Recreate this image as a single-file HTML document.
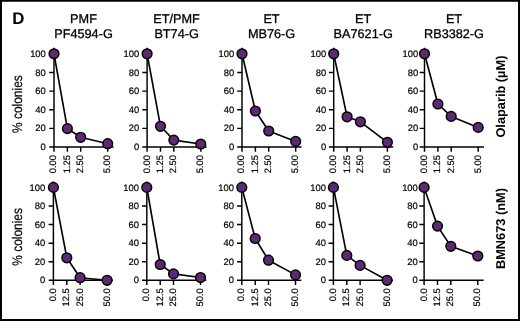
<!DOCTYPE html>
<html><head><meta charset="utf-8"><title>Figure D</title>
<style>
html,body{margin:0;padding:0;background:#fff;}
body{width:520px;height:321px;overflow:hidden;}
svg{display:block;text-rendering:geometricPrecision;font-family:"Liberation Sans",sans-serif;}
.t{font-size:12.7px;text-anchor:middle;fill:#000;stroke:#000;stroke-width:0.3px;}
.k{font-size:9.4px;fill:#000;stroke:#000;stroke-width:0.2px;}
.yl{font-size:13.8px;text-anchor:middle;fill:#000;stroke:#000;stroke-width:0.2px;}
.rl{font-size:12.8px;font-weight:bold;text-anchor:middle;fill:#000;}
.ax{stroke:#000;stroke-width:1.45;fill:none;}
.ln{stroke:#000;stroke-width:1.65;fill:none;stroke-linejoin:round;}
.pt{fill:#5c2a72;stroke:#000;stroke-width:1.5;}
</style></head><body>
<svg width="520" height="321" viewBox="0 0 520 321">
<rect x="0" y="0" width="520" height="321" fill="#fff"/>
<path d="M0 0H520V321H0Z M2 1.85V319H518V1.85Z" fill="#000" fill-rule="evenodd"/>
<text x="12.2" y="24.1" style="font-size:16.8px;font-weight:bold;fill:#000">D</text>
<text class="t" x="83.5" y="22.5">PMF</text><text class="t" x="83.5" y="37.7">PF4594-G</text>
<text class="t" x="176.6" y="22.5">ET/PMF</text><text class="t" x="176.6" y="37.7">BT74-G</text>
<text class="t" x="271.5" y="22.5">ET</text><text class="t" x="271.5" y="37.7">MB76-G</text>
<text class="t" x="363.2" y="22.5">ET</text><text class="t" x="363.2" y="37.7">BA7621-G</text>
<text class="t" x="454.0" y="22.5">ET</text><text class="t" x="454.0" y="37.7">RB3382-G</text>
<text class="yl" transform="translate(21.8 104.1) rotate(-90) scale(0.865 1)">% colonies</text>
<text class="rl" transform="translate(505 96.6) rotate(-90)">Olaparib (µM)</text>
<path class="ax" d="M54.00 47.85V151.80M49.20 147.00H113.50M49.20 128.37H54.00M49.20 109.74H54.00M49.20 91.11H54.00M49.20 72.48H54.00M49.20 53.85H54.00M67.40 147.00V151.80M80.70 147.00V151.80M107.70 147.00V151.80"/>
<text class="k" text-anchor="end" transform="translate(45.8 150.10)">0</text><text class="k" text-anchor="end" transform="translate(45.8 131.47)">20</text><text class="k" text-anchor="end" transform="translate(45.8 112.84)">40</text><text class="k" text-anchor="end" transform="translate(45.8 94.21)">60</text><text class="k" text-anchor="end" transform="translate(45.8 75.58)">80</text><text class="k" text-anchor="end" transform="translate(45.8 56.95)">100</text>
<text class="k" text-anchor="end" transform="translate(56.4 155.0) rotate(-90)">0.00</text><text class="k" text-anchor="end" transform="translate(69.8 155.0) rotate(-90)">1.25</text><text class="k" text-anchor="end" transform="translate(83.1 155.0) rotate(-90)">2.50</text><text class="k" text-anchor="end" transform="translate(110.1 155.0) rotate(-90)">5.00</text>
<polyline class="ln" points="54.0,53.8 67.4,128.6 80.7,137.3 107.7,143.7"/>
<circle class="pt" cx="54.0" cy="53.8" r="4.85"/><circle class="pt" cx="67.4" cy="128.6" r="4.85"/><circle class="pt" cx="80.7" cy="137.3" r="4.85"/><circle class="pt" cx="107.7" cy="143.7" r="4.85"/>
<path class="ax" d="M147.10 47.85V151.80M142.30 147.00H206.60M142.30 128.37H147.10M142.30 109.74H147.10M142.30 91.11H147.10M142.30 72.48H147.10M142.30 53.85H147.10M160.50 147.00V151.80M173.80 147.00V151.80M200.80 147.00V151.80"/>
<text class="k" text-anchor="end" transform="translate(139.2 150.10)">0</text><text class="k" text-anchor="end" transform="translate(139.2 131.47)">20</text><text class="k" text-anchor="end" transform="translate(139.2 112.84)">40</text><text class="k" text-anchor="end" transform="translate(139.2 94.21)">60</text><text class="k" text-anchor="end" transform="translate(139.2 75.58)">80</text><text class="k" text-anchor="end" transform="translate(139.2 56.95)">100</text>
<text class="k" text-anchor="end" transform="translate(149.5 155.0) rotate(-90)">0.00</text><text class="k" text-anchor="end" transform="translate(162.9 155.0) rotate(-90)">1.25</text><text class="k" text-anchor="end" transform="translate(176.2 155.0) rotate(-90)">2.50</text><text class="k" text-anchor="end" transform="translate(203.2 155.0) rotate(-90)">5.00</text>
<polyline class="ln" points="147.1,53.8 160.5,126.3 173.8,140.1 200.8,144.0"/>
<circle class="pt" cx="147.1" cy="53.8" r="4.85"/><circle class="pt" cx="160.5" cy="126.3" r="4.85"/><circle class="pt" cx="173.8" cy="140.1" r="4.85"/><circle class="pt" cx="200.8" cy="144.0" r="4.85"/>
<path class="ax" d="M242.00 47.85V151.80M237.20 147.00H301.50M237.20 128.37H242.00M237.20 109.74H242.00M237.20 91.11H242.00M237.20 72.48H242.00M237.20 53.85H242.00M255.40 147.00V151.80M268.70 147.00V151.80M295.70 147.00V151.80"/>
<text class="k" text-anchor="end" transform="translate(234.2 150.10)">0</text><text class="k" text-anchor="end" transform="translate(234.2 131.47)">20</text><text class="k" text-anchor="end" transform="translate(234.2 112.84)">40</text><text class="k" text-anchor="end" transform="translate(234.2 94.21)">60</text><text class="k" text-anchor="end" transform="translate(234.2 75.58)">80</text><text class="k" text-anchor="end" transform="translate(234.2 56.95)">100</text>
<text class="k" text-anchor="end" transform="translate(244.4 155.0) rotate(-90)">0.00</text><text class="k" text-anchor="end" transform="translate(257.8 155.0) rotate(-90)">1.25</text><text class="k" text-anchor="end" transform="translate(271.1 155.0) rotate(-90)">2.50</text><text class="k" text-anchor="end" transform="translate(298.1 155.0) rotate(-90)">5.00</text>
<polyline class="ln" points="242.0,53.8 255.4,111.0 268.7,131.0 295.7,141.4"/>
<circle class="pt" cx="242.0" cy="53.8" r="4.85"/><circle class="pt" cx="255.4" cy="111.0" r="4.85"/><circle class="pt" cx="268.7" cy="131.0" r="4.85"/><circle class="pt" cx="295.7" cy="141.4" r="4.85"/>
<path class="ax" d="M333.70 47.85V151.80M328.90 147.00H393.20M328.90 128.37H333.70M328.90 109.74H333.70M328.90 91.11H333.70M328.90 72.48H333.70M328.90 53.85H333.70M347.10 147.00V151.80M360.40 147.00V151.80M387.40 147.00V151.80"/>
<text class="k" text-anchor="end" transform="translate(326.2 150.10)">0</text><text class="k" text-anchor="end" transform="translate(326.2 131.47)">20</text><text class="k" text-anchor="end" transform="translate(326.2 112.84)">40</text><text class="k" text-anchor="end" transform="translate(326.2 94.21)">60</text><text class="k" text-anchor="end" transform="translate(326.2 75.58)">80</text><text class="k" text-anchor="end" transform="translate(326.2 56.95)">100</text>
<text class="k" text-anchor="end" transform="translate(336.1 155.0) rotate(-90)">0.00</text><text class="k" text-anchor="end" transform="translate(349.5 155.0) rotate(-90)">1.25</text><text class="k" text-anchor="end" transform="translate(362.8 155.0) rotate(-90)">2.50</text><text class="k" text-anchor="end" transform="translate(389.8 155.0) rotate(-90)">5.00</text>
<polyline class="ln" points="333.7,53.8 347.1,116.8 360.4,121.8 387.4,142.3"/>
<circle class="pt" cx="333.7" cy="53.8" r="4.85"/><circle class="pt" cx="347.1" cy="116.8" r="4.85"/><circle class="pt" cx="360.4" cy="121.8" r="4.85"/><circle class="pt" cx="387.4" cy="142.3" r="4.85"/>
<path class="ax" d="M424.50 47.85V151.80M419.70 147.00H484.00M419.70 128.37H424.50M419.70 109.74H424.50M419.70 91.11H424.50M419.70 72.48H424.50M419.70 53.85H424.50M437.90 147.00V151.80M451.20 147.00V151.80M478.20 147.00V151.80"/>
<text class="k" text-anchor="end" transform="translate(418.2 150.10)">0</text><text class="k" text-anchor="end" transform="translate(418.2 131.47)">20</text><text class="k" text-anchor="end" transform="translate(418.2 112.84)">40</text><text class="k" text-anchor="end" transform="translate(418.2 94.21)">60</text><text class="k" text-anchor="end" transform="translate(418.2 75.58)">80</text><text class="k" text-anchor="end" transform="translate(418.2 56.95)">100</text>
<text class="k" text-anchor="end" transform="translate(426.9 155.0) rotate(-90)">0.00</text><text class="k" text-anchor="end" transform="translate(440.3 155.0) rotate(-90)">1.25</text><text class="k" text-anchor="end" transform="translate(453.6 155.0) rotate(-90)">2.50</text><text class="k" text-anchor="end" transform="translate(480.6 155.0) rotate(-90)">5.00</text>
<polyline class="ln" points="424.5,53.8 437.9,104.0 451.2,116.4 478.2,127.4"/>
<circle class="pt" cx="424.5" cy="53.8" r="4.85"/><circle class="pt" cx="437.9" cy="104.0" r="4.85"/><circle class="pt" cx="451.2" cy="116.4" r="4.85"/><circle class="pt" cx="478.2" cy="127.4" r="4.85"/>
<text class="yl" transform="translate(21.8 236.9) rotate(-90) scale(0.865 1)">% colonies</text>
<text class="rl" transform="translate(505 228.5) rotate(-90)">BMN673 (nM)</text>
<path class="ax" d="M53.40 181.45V285.10M48.60 280.30H112.90M48.60 261.73H53.40M48.60 243.16H53.40M48.60 224.59H53.40M48.60 206.02H53.40M48.60 187.45H53.40M66.80 280.30V285.10M80.10 280.30V285.10M107.10 280.30V285.10"/>
<text class="k" text-anchor="end" transform="translate(45.2 283.40)">0</text><text class="k" text-anchor="end" transform="translate(45.2 264.83)">20</text><text class="k" text-anchor="end" transform="translate(45.2 246.26)">40</text><text class="k" text-anchor="end" transform="translate(45.2 227.69)">60</text><text class="k" text-anchor="end" transform="translate(45.2 209.12)">80</text><text class="k" text-anchor="end" transform="translate(45.2 190.55)">100</text>
<text class="k" text-anchor="end" transform="translate(55.8 288.3) rotate(-90)">0.0</text><text class="k" text-anchor="end" transform="translate(69.2 288.3) rotate(-90)">12.5</text><text class="k" text-anchor="end" transform="translate(82.5 288.3) rotate(-90)">25.0</text><text class="k" text-anchor="end" transform="translate(109.5 288.3) rotate(-90)">50.0</text>
<polyline class="ln" points="53.4,187.4 66.8,257.8 80.1,277.7 107.1,280.3"/>
<circle class="pt" cx="53.4" cy="187.4" r="4.85"/><circle class="pt" cx="66.8" cy="257.8" r="4.85"/><circle class="pt" cx="80.1" cy="277.7" r="4.85"/><circle class="pt" cx="107.1" cy="280.3" r="4.85"/>
<path class="ax" d="M146.80 181.45V285.10M142.00 280.30H206.30M142.00 261.73H146.80M142.00 243.16H146.80M142.00 224.59H146.80M142.00 206.02H146.80M142.00 187.45H146.80M160.20 280.30V285.10M173.50 280.30V285.10M200.50 280.30V285.10"/>
<text class="k" text-anchor="end" transform="translate(138.9 283.40)">0</text><text class="k" text-anchor="end" transform="translate(138.9 264.83)">20</text><text class="k" text-anchor="end" transform="translate(138.9 246.26)">40</text><text class="k" text-anchor="end" transform="translate(138.9 227.69)">60</text><text class="k" text-anchor="end" transform="translate(138.9 209.12)">80</text><text class="k" text-anchor="end" transform="translate(138.9 190.55)">100</text>
<text class="k" text-anchor="end" transform="translate(149.2 288.3) rotate(-90)">0.0</text><text class="k" text-anchor="end" transform="translate(162.6 288.3) rotate(-90)">12.5</text><text class="k" text-anchor="end" transform="translate(175.9 288.3) rotate(-90)">25.0</text><text class="k" text-anchor="end" transform="translate(202.9 288.3) rotate(-90)">50.0</text>
<polyline class="ln" points="146.8,187.4 160.2,264.5 173.5,273.9 200.5,277.5"/>
<circle class="pt" cx="146.8" cy="187.4" r="4.85"/><circle class="pt" cx="160.2" cy="264.5" r="4.85"/><circle class="pt" cx="173.5" cy="273.9" r="4.85"/><circle class="pt" cx="200.5" cy="277.5" r="4.85"/>
<path class="ax" d="M241.80 181.45V285.10M237.00 280.30H301.30M237.00 261.73H241.80M237.00 243.16H241.80M237.00 224.59H241.80M237.00 206.02H241.80M237.00 187.45H241.80M255.20 280.30V285.10M268.50 280.30V285.10M295.50 280.30V285.10"/>
<text class="k" text-anchor="end" transform="translate(234.0 283.40)">0</text><text class="k" text-anchor="end" transform="translate(234.0 264.83)">20</text><text class="k" text-anchor="end" transform="translate(234.0 246.26)">40</text><text class="k" text-anchor="end" transform="translate(234.0 227.69)">60</text><text class="k" text-anchor="end" transform="translate(234.0 209.12)">80</text><text class="k" text-anchor="end" transform="translate(234.0 190.55)">100</text>
<text class="k" text-anchor="end" transform="translate(244.2 288.3) rotate(-90)">0.0</text><text class="k" text-anchor="end" transform="translate(257.6 288.3) rotate(-90)">12.5</text><text class="k" text-anchor="end" transform="translate(270.9 288.3) rotate(-90)">25.0</text><text class="k" text-anchor="end" transform="translate(297.9 288.3) rotate(-90)">50.0</text>
<polyline class="ln" points="241.8,187.4 255.2,238.5 268.5,260.2 295.5,274.9"/>
<circle class="pt" cx="241.8" cy="187.4" r="4.85"/><circle class="pt" cx="255.2" cy="238.5" r="4.85"/><circle class="pt" cx="268.5" cy="260.2" r="4.85"/><circle class="pt" cx="295.5" cy="274.9" r="4.85"/>
<path class="ax" d="M333.40 181.45V285.10M328.60 280.30H392.90M328.60 261.73H333.40M328.60 243.16H333.40M328.60 224.59H333.40M328.60 206.02H333.40M328.60 187.45H333.40M346.80 280.30V285.10M360.10 280.30V285.10M387.10 280.30V285.10"/>
<text class="k" text-anchor="end" transform="translate(325.9 283.40)">0</text><text class="k" text-anchor="end" transform="translate(325.9 264.83)">20</text><text class="k" text-anchor="end" transform="translate(325.9 246.26)">40</text><text class="k" text-anchor="end" transform="translate(325.9 227.69)">60</text><text class="k" text-anchor="end" transform="translate(325.9 209.12)">80</text><text class="k" text-anchor="end" transform="translate(325.9 190.55)">100</text>
<text class="k" text-anchor="end" transform="translate(335.8 288.3) rotate(-90)">0.0</text><text class="k" text-anchor="end" transform="translate(349.2 288.3) rotate(-90)">12.5</text><text class="k" text-anchor="end" transform="translate(362.5 288.3) rotate(-90)">25.0</text><text class="k" text-anchor="end" transform="translate(389.5 288.3) rotate(-90)">50.0</text>
<polyline class="ln" points="333.4,187.4 346.8,255.4 360.1,265.4 387.1,280.3"/>
<circle class="pt" cx="333.4" cy="187.4" r="4.85"/><circle class="pt" cx="346.8" cy="255.4" r="4.85"/><circle class="pt" cx="360.1" cy="265.4" r="4.85"/><circle class="pt" cx="387.1" cy="280.3" r="4.85"/>
<path class="ax" d="M424.10 181.45V285.10M419.30 280.30H483.60M419.30 261.73H424.10M419.30 243.16H424.10M419.30 224.59H424.10M419.30 206.02H424.10M419.30 187.45H424.10M437.50 280.30V285.10M450.80 280.30V285.10M477.80 280.30V285.10"/>
<text class="k" text-anchor="end" transform="translate(417.8 283.40)">0</text><text class="k" text-anchor="end" transform="translate(417.8 264.83)">20</text><text class="k" text-anchor="end" transform="translate(417.8 246.26)">40</text><text class="k" text-anchor="end" transform="translate(417.8 227.69)">60</text><text class="k" text-anchor="end" transform="translate(417.8 209.12)">80</text><text class="k" text-anchor="end" transform="translate(417.8 190.55)">100</text>
<text class="k" text-anchor="end" transform="translate(426.5 288.3) rotate(-90)">0.0</text><text class="k" text-anchor="end" transform="translate(439.9 288.3) rotate(-90)">12.5</text><text class="k" text-anchor="end" transform="translate(453.2 288.3) rotate(-90)">25.0</text><text class="k" text-anchor="end" transform="translate(480.2 288.3) rotate(-90)">50.0</text>
<polyline class="ln" points="424.1,187.4 437.5,226.1 450.8,246.3 477.8,256.0"/>
<circle class="pt" cx="424.1" cy="187.4" r="4.85"/><circle class="pt" cx="437.5" cy="226.1" r="4.85"/><circle class="pt" cx="450.8" cy="246.3" r="4.85"/><circle class="pt" cx="477.8" cy="256.0" r="4.85"/>
</svg></body></html>
